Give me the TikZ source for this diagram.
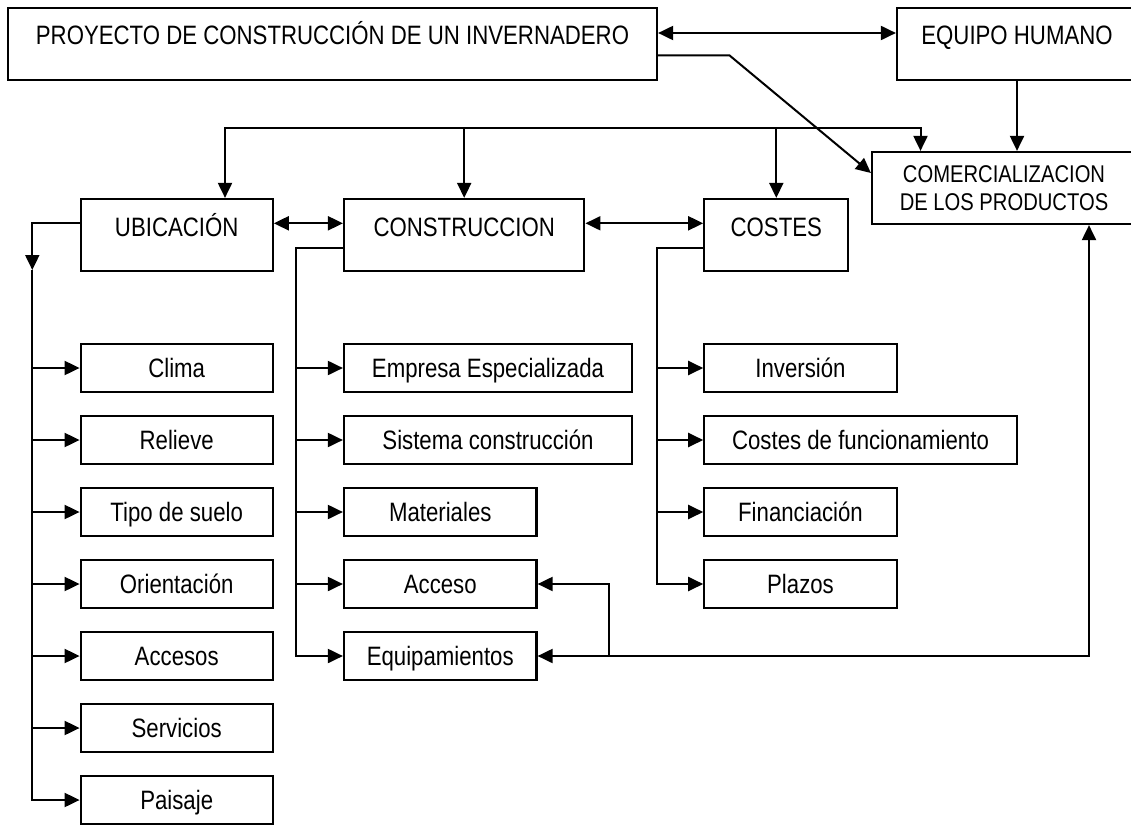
\documentclass[tikz,border=0pt]{standalone}
\usepackage{fontspec}
\setmainfont{Liberation Sans}[FakeStretch=0.835]
\usetikzlibrary{arrows.meta}
\begin{document}
\begin{tikzpicture}[x=1pt,y=-1pt,
  every node/.style={font=\fontsize{26.6}{30}\selectfont},
  box/.style={draw, line width=2.2pt, inner sep=0pt, minimum height=72pt,
              text height=37pt, text depth=35pt},
  itembox/.style={draw, line width=2.2pt, inner sep=0pt, minimum height=48pt,
              text height=19pt, text depth=0pt},
  tip/.tip={Triangle[length=15pt,width=14pt]},
  link/.style={line width=2pt, -tip},
  dlink/.style={line width=2pt, tip-tip}]

\clip (0,0) rectangle (1131,824);

% main boxes
\node[box, minimum width=649pt] (proy) at (332.5,44) {PROYECTO DE CONSTRUCCIÓN DE UN INVERNADERO};
\node[box, minimum width=240pt] (equipo) at (1017,44) {EQUIPO HUMANO};
\node[draw, line width=2.2pt, inner sep=0pt, minimum width=264pt, minimum height=72pt,
      align=center, font=\fontsize{24.2}{28}\selectfont] (comerc) at (1004,188)
      {COMERCIALIZACION\\DE LOS PRODUCTOS};
\node[box, minimum width=192pt] (ubic) at (176.7,235) {UBICACIÓN};
\node[box, minimum width=240.3pt] (constr) at (464.2,235) {CONSTRUCCION};
\node[box, minimum width=144pt] (costes) at (776.3,235) {COSTES};

% location items
\node[itembox, minimum width=192pt] (clima) at (176.7,368) {Clima};
\node[itembox, minimum width=192pt] (relieve) at (176.7,440) {Relieve};
\node[itembox, minimum width=192pt] (suelo) at (176.7,512) {Tipo de suelo};
\node[itembox, minimum width=192pt] (orient) at (176.7,584) {Orientación};
\node[itembox, minimum width=192pt] (accesos) at (176.7,656) {Accesos};
\node[itembox, minimum width=192pt] (servicios) at (176.7,728) {Servicios};
\node[itembox, minimum width=192pt] (paisaje) at (176.7,800) {Paisaje};

% construction items
\node[itembox, minimum width=288pt] (empresa) at (488,368) {Empresa Especializada};
\node[itembox, minimum width=288pt] (sistema) at (488,440) {Sistema construcción};
\node[itembox, minimum width=192.5pt] (materiales) at (440.25,512) {Materiales};
\node[itembox, minimum width=192.5pt] (acceso) at (440.25,584) {Acceso};
\node[itembox, minimum width=192.5pt] (equip) at (440.25,656) {Equipamientos};

% cost items
\node[itembox, minimum width=192.4pt] (inversion) at (800.5,368) {Inversión};
\node[itembox, minimum width=312.4pt] (funcion) at (860.5,440) {Costes de funcionamiento};
\node[itembox, minimum width=192.4pt] (financ) at (800.5,512) {Financiación};
\node[itembox, minimum width=192.4pt] (plazos) at (800.5,584) {Plazos};

% top connectors
\draw[dlink] ([yshift=11pt]proy.east) -- ([yshift=11pt]equipo.west);
\draw[link] ([yshift=-11.5pt]proy.east) -- ++(71.5,0) -- ([yshift=15pt]comerc.west);
\draw[link] (equipo.south) -- (equipo.south |- comerc.north);

% distribution bus
\coordinate (busL) at (225,128);
\coordinate (busR) at (920.5,128);
\draw[dlink] (busL |- ubic.north) -- (busL) -- (busR) -- (busR |- comerc.north);
\draw[link] (busL -| constr.north) -- (constr.north);
\draw[link] (busL -| costes.north) -- (costes.north);

% links between the three areas
\draw[dlink] ([yshift=11.7pt]ubic.east) -- ([yshift=11.7pt]constr.west);
\draw[dlink] ([yshift=11.7pt]constr.east) -- ([yshift=11.7pt]costes.west);

% location branch
\coordinate (lsp) at (32.3,270);
\draw[link] ([yshift=11.7pt]ubic.west) -| (lsp);
\draw[link] (lsp) |- (paisaje.west);
\foreach \n in {clima,relieve,suelo,orient,accesos,servicios}
  \draw[link] (lsp |- \n.west) -- (\n.west);

% construction branch
\coordinate (csp) at (296,247.7);
\draw[link] ([yshift=-12.7pt]constr.west) -- (csp) |- (equip.west);
\foreach \n in {empresa,sistema,materiales,acceso}
  \draw[link] (csp |- \n.west) -- (\n.west);

% cost branch
\coordinate (ksp) at (656.5,247.7);
\draw[link] ([yshift=-12.7pt]costes.west) -- (ksp) |- (plazos.west);
\foreach \n in {inversion,funcion,financ}
  \draw[link] (ksp |- \n.west) -- (\n.west);

% feedback from marketing
\coordinate (rc) at (1089,656);
\coordinate (bc) at (608.5,656);
\draw[dlink] (rc |- comerc.south) -- (rc) -- (equip.east);
\draw[link] (bc) |- (acceso.east);
\end{tikzpicture}
\end{document}
